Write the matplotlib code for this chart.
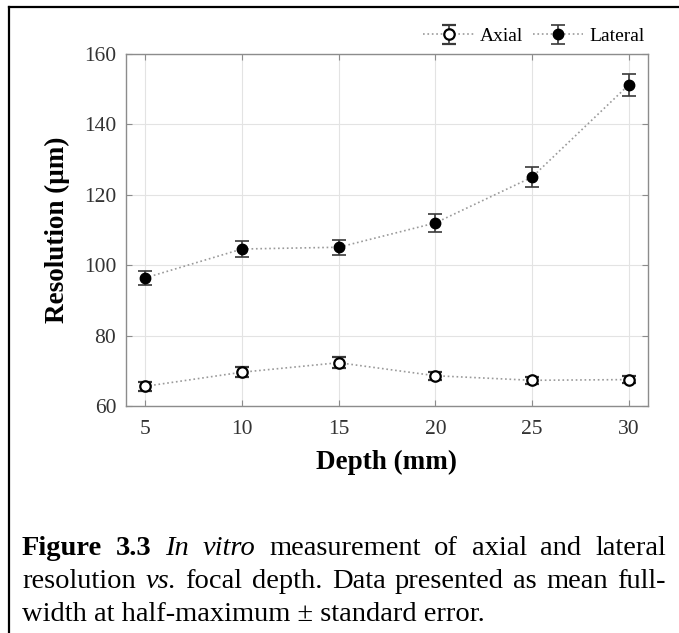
import matplotlib
matplotlib.use('Agg')

import matplotlib.pyplot as plt
from matplotlib.lines import Line2D

plt.rcParams['font.family'] = ['Liberation Serif', 'DejaVu Serif']

# focal depth (mm) and FWHM resolution (um), mean +/- standard error
depth = [5, 10, 15, 20, 25, 30]
axial = [65.6, 69.6, 72.3, 68.6, 67.3, 67.5]
axial_err = [1.2, 1.5, 1.5, 1.1, 1.0, 1.0]
lateral = [96.4, 104.6, 105.1, 112.0, 125.0, 151.2]
lateral_err = [1.9, 2.3, 2.1, 2.5, 2.8, 3.0]

x_ticks = [5, 10, 15, 20, 25, 30]
y_ticks = [60, 80, 100, 120, 140, 160]

W, H = 679, 633
fig = plt.figure(figsize=(W / 100, H / 100), dpi=100)

# partial box around the figure (top and left edges only)
fig.add_artist(Line2D([9 / W, 1.0], [1 - 7 / H, 1 - 7 / H], color='black', lw=1.6))
fig.add_artist(Line2D([9 / W, 9 / W], [0.0, 1 - 7 / H], color='black', lw=1.6))

ax = fig.add_axes([126 / W, 1 - 406 / H, (648 - 126) / W, (406 - 54) / H])

line_kw = dict(linestyle=':', color='#9a9a9a', lw=1.2, ecolor='#3a3a3a',
               elinewidth=1.2, capsize=5, capthick=1.2, markersize=7.5)
ax.errorbar(depth, axial, yerr=axial_err, marker='o', mfc='white', mec='black',
            mew=1.6, label='Axial', **line_kw)
ax.errorbar(depth, lateral, yerr=lateral_err, marker='o', mfc='black', mec='black',
            label='Lateral', **line_kw)

ax.set_xlim(4, 31)
ax.set_ylim(60, 160)
ax.set_xticks(x_ticks)
ax.set_yticks(y_ticks)
ax.grid(True, color='#e3e3e3', lw=0.8)
ax.set_axisbelow(True)
ax.tick_params(direction='in', top=True, right=True, length=4, width=0.8,
               color='#8c8c8c', labelsize=15.5, labelcolor='#333333', pad=7)
ax.tick_params(axis='x', pad=10)
for s in ax.spines.values():
    s.set_color('#8c8c8c')
    s.set_linewidth(1.0)

ax.set_xlabel('Depth (mm)', fontsize=19.5, fontweight='bold', labelpad=8)
ax.set_ylabel('Resolution (μm)', fontsize=19.5, fontweight='bold', labelpad=10)

ax.legend(loc='lower right', bbox_to_anchor=(1.01, 1.0), ncol=2, frameon=False,
          fontsize=14, handlelength=2.6, handletextpad=0.3, columnspacing=0.5,
          borderaxespad=0.05)

# justified caption built word by word
cap_size = 20.5
lines = [
    [('Figure', 'bold'), ('3.3', 'bold'), ('In', 'italic'), ('vitro', 'italic'),
     ('measurement', None), ('of', None), ('axial', None), ('and', None), ('lateral', None)],
    [('resolution', None), ('vs.', 'italic'), ('focal', None), ('depth.', None),
     ('Data', None), ('presented', None), ('as', None), ('mean', None), ('full-', None)],
    [('width at half-maximum ± standard error.', None)],
]
baselines = [555, 588, 621]
x_left, x_right = 22, 666

renderer = fig.canvas.get_renderer()
for words, yb in zip(lines, baselines):
    texts = []
    for w, style in words:
        t = fig.text(0, 1 - yb / H, w, fontsize=cap_size, va='baseline', ha='left',
                     fontweight='bold' if style == 'bold' else 'normal',
                     fontstyle='italic' if style == 'italic' else 'normal')
        texts.append(t)
    widths = [t.get_window_extent(renderer).width for t in texts]
    if len(texts) > 1:
        gap = (x_right - x_left - sum(widths)) / (len(texts) - 1)
    else:
        gap = 0
    xp = x_left
    for t, wd in zip(texts, widths):
        t.set_x(xp / W)
        xp += wd + gap

fig.savefig('out.png', dpi=100)
